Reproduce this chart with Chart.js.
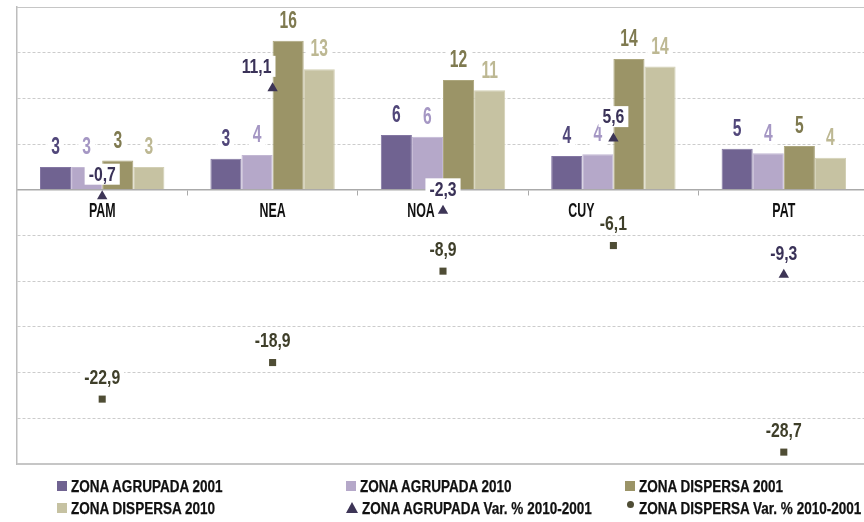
<!DOCTYPE html>
<html lang="es">
<head>
<meta charset="utf-8">
<title>Zona agrupada y dispersa por región</title>
<script src="https://cdn.jsdelivr.net/npm/chart.js@4/dist/chart.umd.min.js"></script>
<style>
  html, body { margin: 0; padding: 0; background: #fff; overflow: hidden; width: 864px; height: 522px; }
  #wrap { position: absolute; left: 0; top: 0; width: 880px; height: 522px; }
  #chart { position: absolute; left: 0; top: 0; }
  #legend { position: absolute; left: 0; top: 0; width: 880px; height: 522px; pointer-events: none;
            font-family: 'Liberation Sans', Arial, sans-serif;
            font-weight: bold; font-size: 16.5px; color: #111; }
  .item { position: absolute; white-space: nowrap; display: flex; align-items: center; height: 20px; }
  .mk { margin-right: 4px; flex: none; }
  .tx { display: inline-block; transform: scaleX(0.82); transform-origin: left center;
        -webkit-text-stroke: 0.25px #111; }
</style>
</head>
<body>
<div id="wrap">
  <canvas id="chart" width="880" height="522"></canvas>
  <div id="legend"></div>
</div>
<script>
// Regiones y valores (cantidades y variación porcentual 2010-2001)
const regiones = ['PAM', 'NEA', 'NOA', 'CUY', 'PAT'];
const agrupada2001 = [2.5, 3.4, 6.0, 3.7, 4.5];
const agrupada2010 = [2.5, 3.8, 5.8, 3.9, 4.0];
const dispersa2001 = [3.2, 16.3, 12.0, 14.3, 4.8];
const dispersa2010 = [2.5, 13.2, 10.9, 13.5, 3.5];
const varAgrupada = [-0.7, 11.1, -2.3, 5.6, -9.3];
const varDispersa = [-22.9, -18.9, -8.9, -6.1, -28.7];

const FONT = "'Liberation Sans', Arial, sans-serif";

// Draws text squeezed horizontally to get a condensed face
function narrowText(ctx, txt, x, y, sx) {
  ctx.save();
  ctx.translate(x, y);
  ctx.scale(sx, 1);
  ctx.fillText(txt, 0, 0);
  ctx.restore();
}

// Solid top and bottom rules of the plot frame
const frame = {
  id: 'frame',
  beforeDatasetsDraw(chart) {
    const { ctx, chartArea: a } = chart;
    ctx.save();
    ctx.strokeStyle = '#c6c6c6';
    ctx.lineWidth = 1;
    ctx.beginPath();
    ctx.moveTo(a.left, a.top + 0.5); ctx.lineTo(a.right, a.top + 0.5);
    ctx.stroke();
    ctx.lineWidth = 2;
    ctx.beginPath();
    ctx.moveTo(a.left, a.bottom); ctx.lineTo(a.right, a.bottom);
    ctx.stroke();
    ctx.restore();
  }
};

// Region names under the zero line, some nudged left to clear the markers
const categoryLabels = {
  id: 'categoryLabels',
  beforeDatasetsDraw(chart, args, opts) {
    const { ctx, scales: { x, y } } = chart;
    const base = y.getPixelForValue(0);
    ctx.save();
    ctx.font = `bold ${opts.size}px ${FONT}`;
    ctx.fillStyle = opts.color;
    ctx.textAlign = 'center';
    ctx.textBaseline = 'middle';
    chart.data.labels.forEach((lab, i) => {
      const dx = opts.shift[lab] || 0;
      narrowText(ctx, lab, x.getPixelForValue(i) + dx, base + opts.offset, opts.squeeze);
    });
    ctx.restore();
  }
};

// Value labels on white boxes above every bar and marker
const valueLabels = {
  id: 'valueLabels',
  afterDatasetsDraw(chart, args, opts) {
    const ctx = chart.ctx;
    ctx.save();
    ctx.textAlign = 'center';
    ctx.textBaseline = 'middle';
    chart.data.datasets.forEach((ds, i) => {
      const meta = chart.getDatasetMeta(i);
      const isBar = ds.type === 'bar';
      const size = isBar ? 23 : 21;
      const sx = isBar ? 0.68 : 0.75;
      const nudge = opts.nudge[ds.label] || {};
      ctx.font = `bold ${size}px ${FONT}`;
      meta.data.forEach((el, j) => {
        const v = ds.data[j];
        const txt = isBar ? String(Math.round(v)) : v.toFixed(1).replace('.', ',');
        const cx = el.x + (nudge[chart.data.labels[j]] || 0);
        const cy = el.y - (isBar ? 20 : 22);
        const w = ctx.measureText(txt).width * sx + 8;
        const h = size;
        ctx.fillStyle = '#ffffff';
        ctx.fillRect(cx - w / 2, cy - h / 2, w, h);
        ctx.fillStyle = ds.labelColor;
        narrowText(ctx, txt, cx, cy + 1, sx);
      });
    });
    ctx.restore();
  }
};

const chart = new Chart(document.getElementById('chart'), {
  data: {
    labels: regiones,
    datasets: [
      { type: 'bar', label: 'ZONA AGRUPADA 2001', data: agrupada2001,
        backgroundColor: '#706391', borderColor: '#8376a2', borderWidth: 1, labelColor: '#51477a' },
      { type: 'bar', label: 'ZONA AGRUPADA 2010', data: agrupada2010,
        backgroundColor: '#b5a8c9', borderColor: '#c2b7d3', borderWidth: 1, labelColor: '#a597c4' },
      { type: 'bar', label: 'ZONA DISPERSA 2001', data: dispersa2001,
        backgroundColor: '#9b9467', borderColor: '#aca67d', borderWidth: 1, labelColor: '#7f7a50' },
      { type: 'bar', label: 'ZONA DISPERSA 2010', data: dispersa2010,
        backgroundColor: '#c6c2a2', borderColor: '#d2cfb4', borderWidth: 1, labelColor: '#bdb893' },
      { type: 'line', label: 'ZONA AGRUPADA Var. % 2010-2001', data: varAgrupada, order: -1,
        showLine: false, pointStyle: 'triangle', pointRadius: 6,
        pointBackgroundColor: '#3d3556', pointBorderColor: '#3d3556', pointBorderWidth: 0,
        labelColor: '#3a3258', legendMarker: 'triangle' },
      { type: 'line', label: 'ZONA DISPERSA Var. % 2010-2001', data: varDispersa, order: -1,
        showLine: false, pointStyle: 'rect', pointRadius: 5,
        pointBackgroundColor: '#4f4d35', pointBorderColor: '#4f4d35', pointBorderWidth: 0,
        labelColor: '#3f3f2a', legendMarker: 'circle' }
    ]
  },
  options: {
    responsive: false,
    animation: false,
    datasets: { bar: { categoryPercentage: 0.73, barPercentage: 1.0 } },
    layout: { padding: { left: 17, right: 11, top: 7, bottom: 58 } },
    plugins: {
      legend: { display: false },
      tooltip: { enabled: false },
      categoryLabels: { size: 20, squeeze: 0.62, color: '#111', offset: 22,
                        shift: { NOA: -22, CUY: -32 } },
      valueLabels: { nudge: { 'ZONA AGRUPADA Var. % 2010-2001': { NEA: -16 } } }
    },
    scales: {
      x: {
        position: { y: 0 },
        offset: true,
        grid: { display: true, offset: true, drawOnChartArea: false, drawTicks: true,
                tickLength: 5, color: '#aaaaaa' },
        border: { display: true, color: '#aaaaaa', width: 1.5 },
        ticks: { display: false }
      },
      y: {
        min: -30, max: 20,
        ticks: { display: false, stepSize: 5 },
        grid: { color: '#cccccc', drawTicks: false, lineWidth: 1 },
        border: { display: true, color: '#bdbdbd', width: 1.5, dash: [3, 2] }
      }
    }
  },
  plugins: [frame, categoryLabels, valueLabels]
});

// Legend in three columns, built from the datasets
const legend = document.getElementById('legend');
const colLeft = [57, 346, 625];
const rowTop = [476, 498];
chart.data.datasets.forEach((ds, i) => {
  const item = document.createElement('div');
  item.className = 'item';
  item.style.left = colLeft[i % 3] + 'px';
  item.style.top = rowTop[Math.floor(i / 3)] + 'px';
  const mk = document.createElement('span');
  mk.className = 'mk';
  if (ds.legendMarker === 'triangle') {
    mk.style.cssText = `width:0;height:0;border-left:6px solid transparent;border-right:6px solid transparent;border-bottom:11px solid ${ds.pointBackgroundColor};margin-top:-1px;`;
  } else if (ds.legendMarker === 'circle') {
    mk.style.cssText = `width:7px;height:7px;border-radius:50%;background:${ds.pointBackgroundColor};margin:-8px 5px 0 2px;`;
  } else {
    mk.style.cssText = `width:10px;height:10px;background:${ds.backgroundColor};`;
  }
  const tx = document.createElement('span');
  tx.className = 'tx';
  tx.textContent = ds.label;
  item.appendChild(mk);
  item.appendChild(tx);
  legend.appendChild(item);
});
</script>
</body>
</html>
